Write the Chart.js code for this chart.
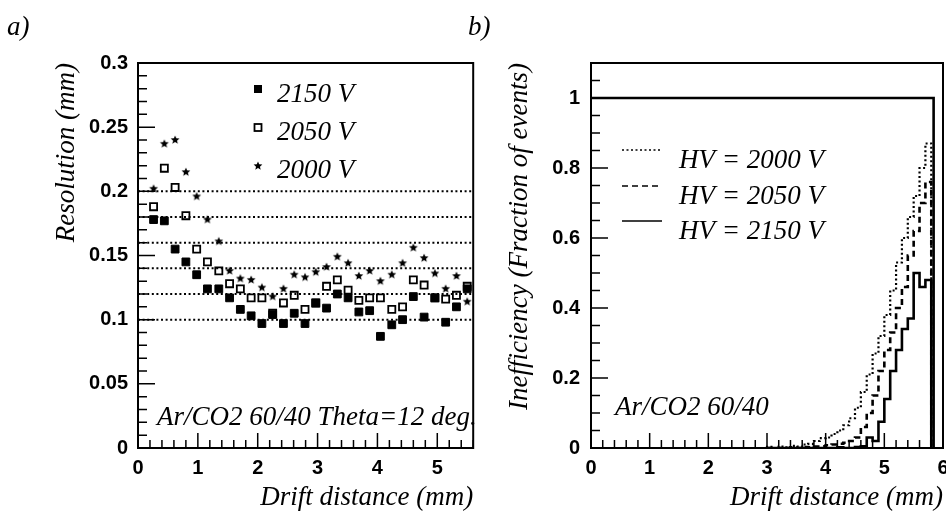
<!DOCTYPE html>
<html>
<head>
<meta charset="utf-8">
<script src="https://cdn.jsdelivr.net/npm/chart.js@4.4.1/dist/chart.umd.min.js"></script>
<style>
html, body { margin: 0; padding: 0; background: #fff; overflow: hidden; width: 946px; height: 513px }
#wrap { position: relative; width: 946px; height: 513px; overflow: hidden }
canvas { position: absolute; top: 0 }
#left { left: 0 }
#right { left: 480px }
.tag { position: absolute; top: 13px; font: italic 27px/27px "Liberation Serif", serif; color: #000 }
</style>
</head>
<body>
<div id="wrap">
  <canvas id="left" width="480" height="513"></canvas>
  <canvas id="right" width="480" height="513"></canvas>
  <div class="tag" style="left:7px">a)</div>
  <div class="tag" style="left:468px">b)</div>
</div>
<script>
// panel a) resolution vs drift distance
const driftX = [0.26, 0.44, 0.62, 0.80, 0.98, 1.16, 1.35, 1.53, 1.71, 1.89,
  2.07, 2.25, 2.43, 2.61, 2.79, 2.97, 3.15, 3.33, 3.51, 3.69,
  3.87, 4.05, 4.24, 4.42, 4.60, 4.78, 4.96, 5.14, 5.32, 5.50]
const res2150 = [0.178, 0.177, 0.155, 0.145, 0.135, 0.124, 0.124, 0.117, 0.108, 0.103,
  0.097, 0.104, 0.097, 0.105, 0.097, 0.113, 0.109, 0.120, 0.117, 0.106,
  0.107, 0.087, 0.096, 0.100, 0.118, 0.102, 0.117, 0.098, 0.110, 0.124]
const res2050 = [0.188, 0.218, 0.203, 0.181, 0.155, 0.145, 0.138, 0.128, 0.124, 0.117,
  0.117, 0.105, 0.113, 0.119, 0.108, 0.113, 0.126, 0.131, 0.123, 0.115,
  0.117, 0.117, 0.108, 0.110, 0.131, 0.127, 0.117, 0.116, 0.119, 0.126]
const res2000 = [0.202, 0.237, 0.240, 0.215, 0.196, 0.178, 0.161, 0.138, 0.132, 0.131,
  0.125, 0.118, 0.124, 0.135, 0.133, 0.137, 0.141, 0.149, 0.144, 0.134,
  0.138, 0.130, 0.135, 0.144, 0.156, 0.148, 0.136, 0.124, 0.134, 0.114]
const gridLevels = [0.1, 0.12, 0.14, 0.16, 0.18, 0.2]
const leftLegend = ["2150 V", "2050 V", "2000 V"]

// panel b) inefficiency histograms (bin lower edges, 0.1 mm bins)
const binStart = [3.0, 3.1, 3.2, 3.3, 3.4, 3.5, 3.6, 3.7, 3.8, 3.9,
  4.0, 4.1, 4.2, 4.3, 4.4, 4.5, 4.6, 4.7, 4.8, 4.9,
  5.0, 5.1, 5.2, 5.3, 5.4, 5.5, 5.6, 5.7, 5.8, 5.85]
const ineff2000 = [0, 0.003, 0, 0.004, 0.002, 0.006, 0.004, 0.01, 0.012, 0.02,
  0.028, 0.03, 0.04, 0.05, 0.065, 0.085, 0.115, 0.16, 0.21, 0.27,
  0.32, 0.38, 0.45, 0.53, 0.6, 0.66, 0.72, 0.8, 0.87, 0]
const ineff2050 = [0, 0, 0, 0, 0, 0.002, 0, 0.003, 0.002, 0.004,
  0.005, 0.008, 0.01, 0.012, 0.015, 0.02, 0.03, 0.06, 0.1, 0.15,
  0.22, 0.28, 0.33, 0.4, 0.46, 0.55, 0.62, 0.7, 0.76, 0]
const ineff2150 = [0, 0, 0, 0, 0, 0, 0, 0, 0, 0,
  0, 0, 0, 0.002, 0, 0, 0.003, 0.005, 0.03, 0.02,
  0.075, 0.14, 0.22, 0.28, 0.34, 0.37, 0.5, 0.46, 0.48, 0]
const limitX = [0, 5.84, 5.84]
const limitY = [1, 1, 0]
const rightLegend = ["HV = 2000 V", "HV = 2050 V", "HV = 2150 V"]

const SERIF = '"Liberation Serif", "Times New Roman", serif'
const SANS = '"Liberation Sans", Arial, sans-serif'

function starImage(r) {
  const c = document.createElement("canvas")
  c.width = c.height = Math.ceil(r * 2 + 2)
  const g = c.getContext("2d")
  const m = c.width / 2
  g.beginPath()
  for (let k = 0; k < 10; k++) {
    const rad = k % 2 ? r * 0.45 : r
    const ang = -Math.PI / 2 + k * Math.PI / 5
    g.lineTo(m + rad * Math.cos(ang), m + rad * Math.sin(ang))
  }
  g.closePath()
  g.fillStyle = "#000"
  g.fill()
  return c
}
const star = starImage(4.6)

function pts(xs, ys) {
  return xs.map((x, i) => ({ x, y: ys[i] }))
}

// frame + inward ticks, ROOT style
function framePlugin(t) {
  return {
    id: "frame",
    afterDatasetsDraw(chart) {
      const { ctx, chartArea: a, scales: { x, y } } = chart
      ctx.save()
      ctx.strokeStyle = "#000"
      ctx.lineWidth = 1.5
      ctx.beginPath()
      const ny = Math.round((y.max - y.min) / t.yMinor)
      for (let i = 0; i <= ny; i++) {
        const v = y.min + i * t.yMinor
        const py = y.getPixelForValue(v)
        const len = i % t.yEvery === 0 ? 17 : 9
        ctx.moveTo(a.left, py)
        ctx.lineTo(a.left + len, py)
      }
      const nx = Math.round((x.max - x.min) / t.xMinor)
      for (let i = 0; i <= nx; i++) {
        const v = x.min + i * t.xMinor
        const px = x.getPixelForValue(v)
        const len = i % t.xEvery === 0 ? 15 : 8
        ctx.moveTo(px, a.bottom)
        ctx.lineTo(px, a.bottom - len)
      }
      ctx.stroke()
      ctx.lineWidth = 2
      ctx.strokeRect(a.left, a.top, a.right - a.left, a.bottom - a.top)
      ctx.restore()
    }
  }
}

function axisX(max, title) {
  return {
    type: "linear", min: 0, max: max,
    border: { display: false },
    grid: { display: false, drawTicks: false },
    ticks: { stepSize: 1, includeBounds: false, padding: 8, color: "#000",
      font: { family: SANS, weight: "bold", size: 20 } },
    title: { display: true, text: title, align: "end", color: "#000",
      font: { family: SERIF, style: "italic", size: 27, lineHeight: 1 },
      padding: { top: 0, bottom: 2 } },
    afterFit(s) { s.height = 65 }
  }
}

function axisY(max, step, title, width, pad, titlePad) {
  return {
    type: "linear", min: 0, max: max,
    border: { display: false },
    grid: { display: false, drawTicks: false },
    ticks: { stepSize: step, includeBounds: false, padding: pad, color: "#000",
      font: { family: SANS, weight: "bold", size: 20 },
      callback: v => String(+Number(v).toFixed(2)) },
    title: { display: true, text: title, align: "end", color: "#000",
      font: { family: SERIF, style: "italic", size: 27, lineHeight: 1 },
      padding: { top: titlePad, bottom: 0 } },
    afterFit(s) { s.width = width }
  }
}

// ---------- panel a ----------
const leftLegendPlugin = {
  id: "leftText",
  afterDraw(chart) {
    const { ctx, chartArea: a } = chart
    const ds = chart.data.datasets
    ctx.save()
    ctx.fillStyle = "#000"
    ctx.font = "italic 27px " + SERIF
    ctx.textBaseline = "alphabetic"
    leftLegend.forEach((label, i) => {
      const mx = 258, my = 89 + i * 38.5
      const d = ds[i]
      if (d.pointStyle === "rect") {
        ctx.lineWidth = d.borderWidth
        if (d.backgroundColor === "#000") ctx.fillRect(mx - 4, my - 4, 8, 8)
        else ctx.strokeRect(mx - 3.5, my - 3.5, 7, 7)
      } else {
        ctx.drawImage(d.pointStyle, mx - d.pointStyle.width / 2, my - d.pointStyle.height / 2)
      }
      ctx.fillText(label, 277, 102 + i * 38)
    })
    ctx.fillText("Ar/CO2 60/40 Theta=12 deg.", a.left + 19, 425)
    ctx.restore()
  }
}

const leftSets = [
  { data: pts(driftX, res2150), showLine: false, pointStyle: "rect", pointRadius: 5.5,
    backgroundColor: "#000", borderColor: "#000", borderWidth: 1 },
  { data: pts(driftX, res2050), showLine: false, pointStyle: "rect", pointRadius: 5,
    backgroundColor: "rgba(0,0,0,0)", borderColor: "#000", borderWidth: 1.8 },
  { data: pts(driftX, res2000), showLine: false, pointStyle: star, pointRadius: 4,
    backgroundColor: "#000", borderColor: "#000" }
]
gridLevels.forEach(lv => {
  leftSets.push({ data: pts([0, 5.6], [lv, lv]), showLine: true, borderColor: "#000",
    borderWidth: 2, borderDash: [2, 2.6], pointRadius: 0, fill: false })
})

new Chart(document.getElementById("left"), {
  type: "scatter",
  data: { datasets: leftSets },
  options: {
    responsive: false, animation: false,
    layout: { padding: { left: 50, top: 63, right: 2, bottom: 0 } },
    plugins: { legend: { display: false }, tooltip: { enabled: false } },
    scales: {
      x: axisX(5.6, "Drift distance (mm)"),
      y: axisY(0.3, 0.05, "Resolution (mm)", 88, 10, 3.5)
    }
  },
  plugins: [framePlugin({ yMinor: 0.01, yEvery: 5, xMinor: 0.2, xEvery: 5 }), leftLegendPlugin]
})

// ---------- panel b ----------
const rightLegendPlugin = {
  id: "rightText",
  afterDraw(chart) {
    const { ctx, chartArea: a } = chart
    const ds = chart.data.datasets
    ctx.save()
    ctx.fillStyle = "#000"
    ctx.strokeStyle = "#000"
    ctx.font = "italic 27px " + SERIF
    rightLegend.forEach((label, i) => {
      const ly = [150, 186, 221][i]
      ctx.lineWidth = 1.3
      ctx.setLineDash(ds[i].borderDash || [])
      ctx.beginPath()
      ctx.moveTo(142, ly)
      ctx.lineTo(182, ly)
      ctx.stroke()
      ctx.fillText(label, 199, [168, 204, 239][i])
    })
    ctx.setLineDash([])
    ctx.fillText("Ar/CO2 60/40", a.left + 24, 415)
    ctx.restore()
  }
}

new Chart(document.getElementById("right"), {
  type: "scatter",
  data: {
    datasets: [
      { data: pts(binStart, ineff2000), showLine: true, stepped: "after", pointRadius: 0,
        borderColor: "#000", borderWidth: 2.2, borderDash: [2, 2.5] },
      { data: pts(binStart, ineff2050), showLine: true, stepped: "after", pointRadius: 0,
        borderColor: "#000", borderWidth: 2.6, borderDash: [6, 4] },
      { data: pts(binStart, ineff2150), showLine: true, stepped: "after", pointRadius: 0,
        borderColor: "#000", borderWidth: 2.6 },
      { data: pts(limitX, limitY), showLine: true, pointRadius: 0,
        borderColor: "#000", borderWidth: 2.6 }
    ]
  },
  options: {
    responsive: false, animation: false,
    layout: { padding: { left: 20, top: 63, right: 17, bottom: 0 } },
    plugins: { legend: { display: false }, tooltip: { enabled: false } },
    scales: {
      x: axisX(6, "Drift distance (mm)"),
      y: axisY(1.1, 0.2, "Inefficiency (Fraction of events)", 91, 11, 6.5)
    }
  },
  plugins: [framePlugin({ yMinor: 0.05, yEvery: 4, xMinor: 0.2, xEvery: 5 }), rightLegendPlugin]
})
</script>
</body>
</html>
